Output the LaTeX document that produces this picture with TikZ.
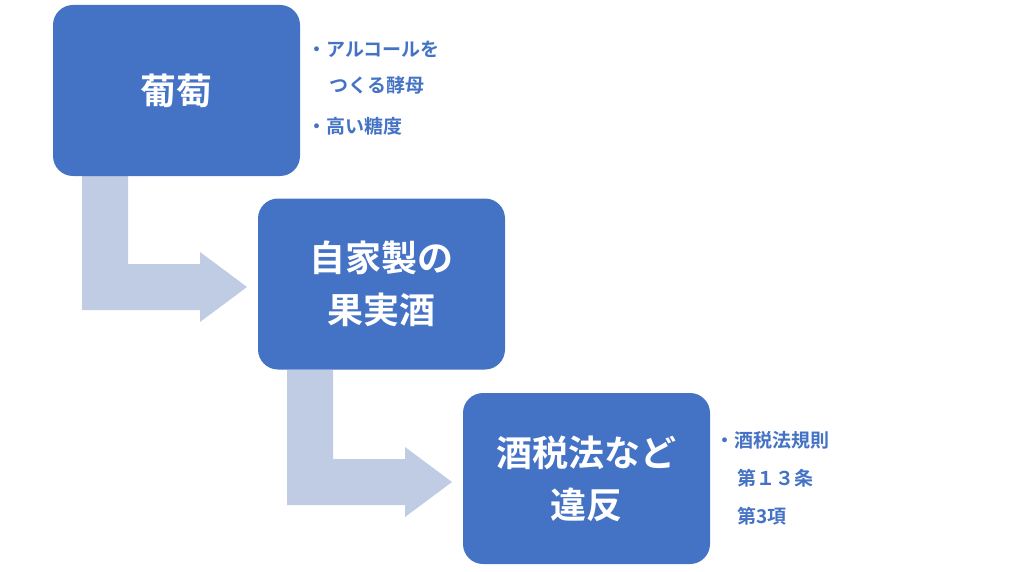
\documentclass[tikz,border=0pt]{standalone}
\usepackage{fontspec}
\newfontfamily\cjk{Noto Sans CJK JP}[BoldFont={Noto Sans CJK JP Bold}]
\definecolor{boxblue}{RGB}{68,114,196}
\definecolor{arrowgray}{RGB}{192,203,228}
\tikzset{
  stage/.style={draw=none, fill=boxblue, rounded corners=20pt, minimum width=247pt, minimum height=171pt,
    text=white, font=\cjk\bfseries\fontsize{36}{52}\selectfont, align=center},
  note/.style={text=boxblue, font=\cjk\bfseries\fontsize{19}{38}\selectfont, anchor=west, align=left}
}
\begin{document}
\begin{tikzpicture}[x=1pt,y=1pt,yscale=-1]
\useasboundingbox (0,0) rectangle (1024,572);
%Bent arrows
\fill [arrowgray] (82,176) -- (128,176) -- (128,264) -- (200,264) -- (200,252) -- (247,287) -- (200,322) -- (200,310) -- (82,310) -- cycle;
\fill [arrowgray] (287,370) -- (333,370) -- (333,459) -- (405,459) -- (405,447) -- (452,482) -- (405,517) -- (405,505) -- (287,505) -- cycle;
%Boxes
\node [stage] (grape) at (176.5,90.5) {葡萄};
\node [stage] (homemade) at (381.5,284) {自家製の\\果実酒};
\node [stage] (law) at (586.5,478.5) {酒税法など\\違反};
%Notes
\node [note] (yeast) at (304,49) {・アルコールを};
\node [note] (yeast2) at (326,85) {つくる酵母};
\node [note] (sugar) at (304,126) {・高い糖度};
\node [note] (rule) at (712,440) {・酒税法規則};
\node [note] (art) at (734,478) {第１３条};
\node [note] (para) at (734,516) {第3項};
\end{tikzpicture}
\end{document}
